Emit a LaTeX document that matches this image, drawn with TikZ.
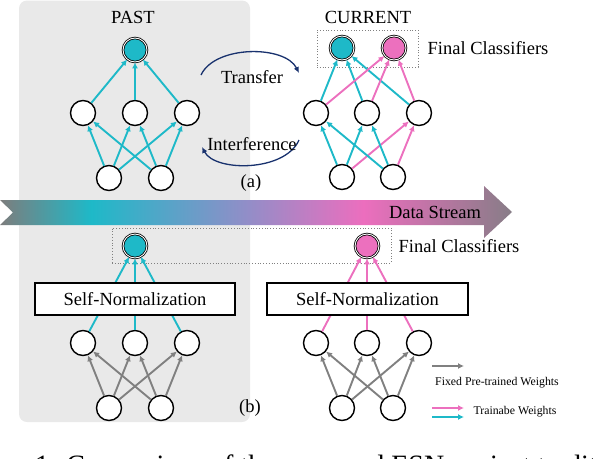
\documentclass[tikz,border=0pt]{standalone}
\usepackage{fontspec}
\setmainfont{Liberation Serif}
\usetikzlibrary{arrows.meta}
\definecolor{cy}{RGB}{30,185,200}
\definecolor{pk}{RGB}{236,112,190}
\definecolor{gr}{RGB}{128,128,128}
\definecolor{navy}{RGB}{25,50,110}
\definecolor{panel}{RGB}{233,233,233}
\definecolor{sg}{RGB}{125,125,125}
\definecolor{sc}{RGB}{30,185,200}
\definecolor{sm}{RGB}{145,142,200}
\definecolor{sp}{RGB}{236,110,190}
\definecolor{se}{RGB}{135,125,135}
\pgfdeclarehorizontalshading{streamshade}{100bp}{color(0bp)=(sg); color(25bp)=(sg); color(33.9bp)=(sc); color(49bp)=(sm); color(60.5bp)=(sp); color(75bp)=(se); color(100bp)=(se)}
\begin{document}
\begin{tikzpicture}[x=1pt,y=-1pt,
 neuron/.style={circle,draw=black,line width=1.4pt,fill=white,minimum size=25pt,inner sep=0pt},
 outn/.style={circle,draw=black,line width=0.8pt,double=white,double distance=0.9pt,minimum size=24pt,inner sep=0pt},
 cyedge/.style={draw=cy,line width=1.9pt,-{Latex[length=6pt,width=6pt]}},
 pkedge/.style={draw=pk,line width=1.9pt,-{Latex[length=6pt,width=6pt]}},
 gredge/.style={draw=gr,line width=1.9pt,-{Latex[length=6pt,width=6pt]}},
 navyarc/.style={draw=navy,line width=1.3pt,-{Latex[length=6pt,width=5.5pt]}},
 normbox/.style={draw=black,line width=1.3pt,fill=white,minimum width=200pt,minimum height=32pt,inner sep=0pt},
 dotbox/.style={draw=gr,dotted,line width=0.8pt,inner sep=0pt},
 lab/.style={font=\fontsize{18.5}{20}\selectfont,inner sep=0pt},
 smalllab/.style={font=\fontsize{11.8}{13}\selectfont,inner sep=0pt}]
\useasboundingbox (0,0) rectangle (594,458);
\clip (0,0) rectangle (594,458);
% panel
\fill[panel,rounded corners=8pt] (19,0.5) rectangle (250,422);
% data stream
\shade[shading=streamshade] (0,200) -- (484,200) -- (484,186) -- (512,212) -- (484,238) -- (484,225) -- (0,225) -- (13,212.5) -- cycle;
\node[lab] (ds) at (435,212) {Data Stream};
% dotted boxes
\node[dotbox,minimum width=101pt,minimum height=37pt] (dba) at (367.5,48.5) {};
\node[dotbox,minimum width=279pt,minimum height=35pt] (dbb) at (251.5,245.5) {};
% ----- (a) PAST
\node[lab] (past) at (133,17) {PAST};
\node[outn,fill=cy] (o1) at (135,50) {};
\node[neuron] (m1) at (83,113) {};
\node[neuron] (m2) at (135,113) {};
\node[neuron] (m3) at (187,113) {};
\node[neuron] (b1) at (109,178) {};
\node[neuron] (b2) at (161,178) {};
\foreach \m in {m1,m2,m3} {\draw[cyedge] (\m) -- (o1);}
\foreach \b in {b1,b2} {\foreach \m in {m1,m2,m3} {\draw[cyedge] (\b) -- (\m);}}
% ----- (a) CURRENT
\node[lab] (cur) at (368,17) {CURRENT};
\node[outn,fill=cy] (oc) at (342,48) {};
\node[outn,fill=pk] (op) at (394,48) {};
\node[lab] (fca) at (488,48) {Final Classifiers};
\node[neuron] (n1) at (316,113) {};
\node[neuron] (n2) at (367,113) {};
\node[neuron] (n3) at (419,113) {};
\node[neuron] (c1) at (342,177) {};
\node[neuron] (c2) at (393,177) {};
\foreach \m in {n1,n2,n3} {\draw[cyedge] (\m) -- (oc);}
\foreach \m in {n1,n2,n3} {\draw[pkedge] (\m) -- (op);}
\foreach \b in {c1,c2} {\draw[cyedge] (\b) -- (n1); \draw[cyedge] (\b) -- (n2); \draw[pkedge] (\b) -- (n3);}
% transfer / interference
\coordinate (ts) at (201,75);
\coordinate (te) at (299,73);
\coordinate (is) at (299,140);
\coordinate (ie) at (202,147);
\draw[navyarc] (ts) .. controls (215,45) and (285,45) .. (te);
\draw[navyarc] (is) .. controls (285,172) and (215,172) .. (ie);
\node[lab] (tr) at (252,77) {Transfer};
\node[lab] (inf) at (252,144) {Interference};
\node[lab] (la) at (251,183) {(a)};
% ----- (b) left
\node[outn,fill=cy] (lo) at (135,246) {};
\node[neuron] (lm1) at (83,343) {};
\node[neuron] (lm2) at (135,343) {};
\node[neuron] (lm3) at (187,343) {};
\node[neuron] (lb1) at (109,408) {};
\node[neuron] (lb2) at (161,408) {};
\foreach \m in {lm1,lm2,lm3} {\draw[cyedge] (\m) -- (lo);}
\foreach \b in {lb1,lb2} {\foreach \m in {lm1,lm2,lm3} {\draw[gredge] (\b) -- (\m);}}
\node[normbox,lab] (lbox) at (135,299) {Self-Normalization};
% ----- (b) right
\node[outn,fill=pk] (ro) at (367,246) {};
\node[lab] (fcb) at (459,246) {Final Classifiers};
\node[neuron] (rm1) at (316,343) {};
\node[neuron] (rm2) at (367,343) {};
\node[neuron] (rm3) at (419,343) {};
\node[neuron] (rb1) at (342,408) {};
\node[neuron] (rb2) at (393,408) {};
\foreach \m in {rm1,rm2,rm3} {\draw[pkedge] (\m) -- (ro);}
\foreach \b in {rb1,rb2} {\foreach \m in {rm1,rm2,rm3} {\draw[gredge] (\b) -- (\m);}}
\node[normbox,lab,minimum width=201pt] (rbox) at (367.5,299) {Self-Normalization};
\node[lab] (lbb) at (250,408) {(b)};
% legend
\coordinate (g1) at (432,366); \coordinate (g2) at (464,366);
\coordinate (p1) at (432,408); \coordinate (p2) at (464,408);
\coordinate (q1) at (432,417); \coordinate (q2) at (464,417);
\draw[gredge] (g1) -- (g2);
\draw[pkedge] (p1) -- (p2);
\draw[cyedge] (q1) -- (q2);
\node[smalllab] (fx) at (497,383) {Fixed Pre-trained Weights};
\node[smalllab] (tw) at (515,412) {Trainabe Weights};
% caption (cut off by the frame, as in the reference)
\node[anchor=base west,inner sep=0pt,font=\fontsize{28}{30}\selectfont] (cap) at (35,474) {1: Comparison of the proposed ESN against traditional};
\end{tikzpicture}
\end{document}
